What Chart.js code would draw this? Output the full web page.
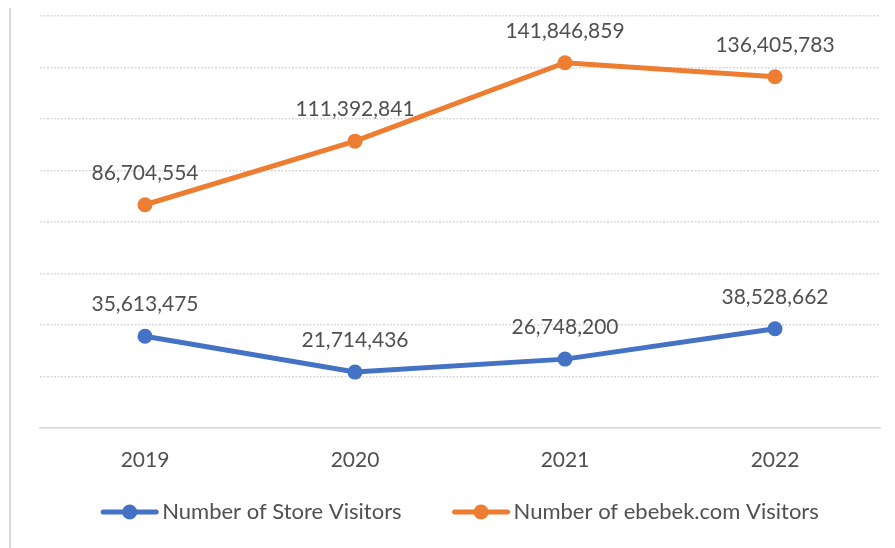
<!DOCTYPE html>
<html>
<head>
<meta charset="utf-8">
<script src="https://cdn.jsdelivr.net/npm/chart.js@4/dist/chart.umd.min.js"></script>
<style>
  html, body { margin: 0; padding: 0; background: #fff; }
  #wrap { position: relative; width: 895px; height: 548px; }
</style>
</head>
<body>
<div id="wrap"><canvas id="visitorsChart" width="895" height="548"></canvas></div>
<script>
// Ziyaretçi verileri
const years = ['2019', '2020', '2021', '2022'];
const storeVisitors = [35613475, 21714436, 26748200, 38528662];
const onlineVisitors = [86704554, 111392841, 141846859, 136405783];
const seriesNames = ['Number of Store Visitors', 'Number of ebebek.com Visitors'];
const seriesColors = ['#4472C4', '#ED7D31'];

const FONT = 'Lato, "Open Sans", sans-serif';
const TEXT_COLOR = '#505050';
const GRID_COLOR = '#d9d9d9';

// sol kenarlık + değer etiketleri + alt açıklama
const extras = {
    id: 'extras',
    beforeDraw(chart) {
        const ctx = chart.ctx;
        ctx.save();
        ctx.fillStyle = GRID_COLOR;
        ctx.fillRect(9, 8, 2, chart.height - 8);
        ctx.restore();
    },
    afterDatasetsDraw(chart) {
        const ctx = chart.ctx;
        ctx.save();
        ctx.font = '21px ' + FONT;
        ctx.fillStyle = TEXT_COLOR;
        ctx.textAlign = 'center';
        ctx.textBaseline = 'middle';
        chart.data.datasets.forEach((ds, i) => {
            chart.getDatasetMeta(i).data.forEach((pt, j) => {
                ctx.fillText(ds.data[j].toLocaleString('en-US'), pt.x, pt.y - 32);
            });
        });
        ctx.restore();
    },
    afterDraw(chart) {
        const ctx = chart.ctx;
        const area = chart.chartArea;
        const y = 512, lineLen = 57, gap = 4, itemGap = 51;
        ctx.save();
        ctx.font = '22px ' + FONT;
        const widths = seriesNames.map(n => lineLen + gap + ctx.measureText(n).width);
        const total = widths.reduce((a, b) => a + b, 0) + itemGap;
        let x = (area.left + area.right) / 2 - total / 2;
        seriesNames.forEach((name, i) => {
            ctx.strokeStyle = seriesColors[i];
            ctx.fillStyle = seriesColors[i];
            ctx.lineWidth = 5;
            ctx.lineCap = 'round';
            ctx.beginPath();
            ctx.moveTo(x + 2, y);
            ctx.lineTo(x + lineLen - 2, y);
            ctx.stroke();
            ctx.beginPath();
            ctx.arc(x + lineLen / 2, y, 7.5, 0, Math.PI * 2);
            ctx.fill();
            ctx.fillStyle = TEXT_COLOR;
            ctx.textAlign = 'left';
            ctx.textBaseline = 'middle';
            ctx.fillText(name, x + lineLen + gap, y);
            x += widths[i] + itemGap;
        });
        ctx.restore();
    }
};

const ctx = document.getElementById('visitorsChart').getContext('2d');
const visitorsChart = new Chart(ctx, {
    type: 'line',
    data: {
        labels: years,
        datasets: [storeVisitors, onlineVisitors].map((values, i) => ({
            label: seriesNames[i],
            data: values,
            borderColor: seriesColors[i],
            backgroundColor: seriesColors[i],
            borderWidth: 5,
            pointRadius: 7.5,
            pointHoverRadius: 7.5,
            pointBorderWidth: 0,
            tension: 0,
            fill: false
        }))
    },
    options: {
        responsive: false,
        animation: false,
        events: [],
        layout: { padding: { left: 40, right: 15, top: 16, bottom: 0 } },
        plugins: {
            legend: { display: false },
            tooltip: { enabled: false }
        },
        scales: {
            x: {
                offset: true,
                grid: { display: false, drawTicks: false },
                border: { display: true, color: GRID_COLOR, width: 1.5 },
                ticks: {
                    color: TEXT_COLOR,
                    font: { family: FONT, size: 21 },
                    padding: 20
                },
                afterFit(scale) { scale.height = 120; }
            },
            y: {
                min: 0,
                max: 160000000,
                ticks: { display: false, stepSize: 20000000 },
                grid: {
                    color: GRID_COLOR,
                    lineWidth: 1.5,
                    drawTicks: false
                },
                border: { display: false, dash: [2, 1.5] },
                afterFit(scale) { scale.width = 0; }
            }
        }
    },
    plugins: [extras]
});
</script>
</body>
</html>
